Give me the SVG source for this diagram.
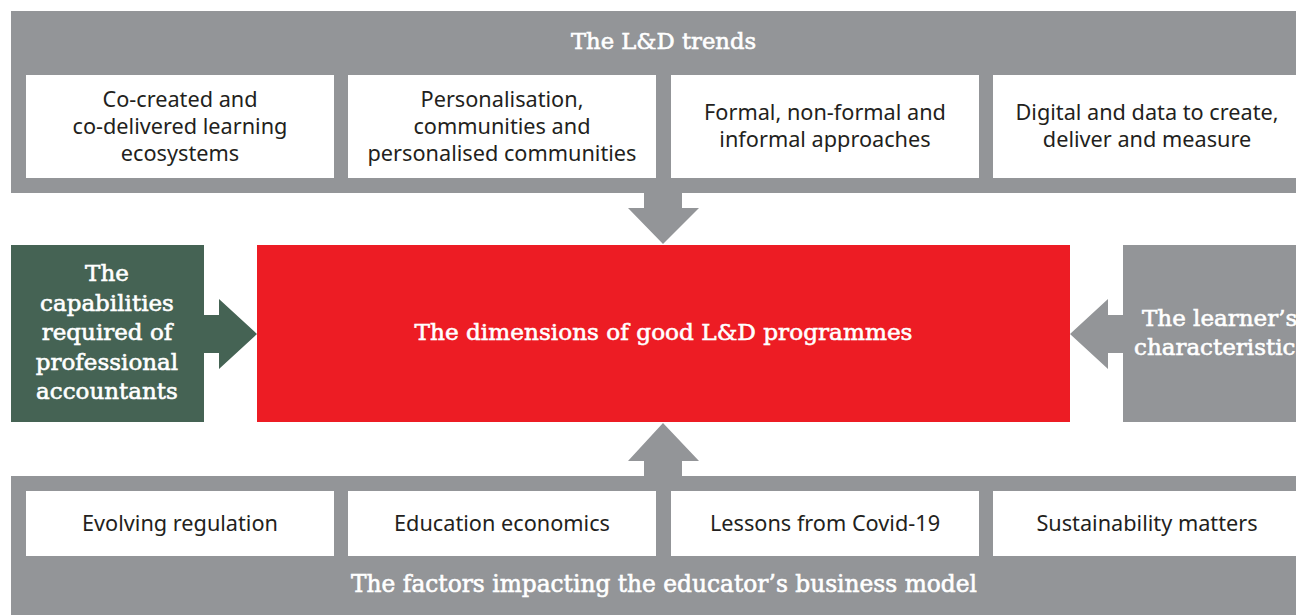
<svg xmlns="http://www.w3.org/2000/svg" width="1296" height="615" viewBox="0 0 1296 615">
<style>
.band{fill:#939598}
.wbox{fill:#ffffff}
.gray{fill:#939598}
.green{fill:#456354}
.red{fill:#ed1c24}
.t{font-family:"Noto Sans","Open Sans",sans-serif;font-size:21.7px;fill:#231f20;text-anchor:middle}
.h{font-family:"DejaVu Serif","Liberation Serif",serif;font-weight:normal;fill:#ffffff;stroke:#ffffff;stroke-width:0.6;text-anchor:middle}
.hs{font-family:"DejaVu Serif","Liberation Serif",serif;font-weight:normal;fill:#ffffff;stroke:#ffffff;stroke-width:0.6;text-anchor:start}
</style>
<rect width="1296" height="615" fill="#ffffff"/>
<g id="trends">
<rect class="band" x="11" y="11" width="1300" height="182"/>
<text class="h" x="663.5" y="49" font-size="22.7">The L&amp;D trends</text>
</g>
<g id="trend1">
<rect class="wbox" x="26" y="75" width="308" height="103"/>
<text class="t" x="180" y="107">Co-created and</text>
<text class="t" x="180" y="134">co-delivered learning</text>
<text class="t" x="180" y="161">ecosystems</text>
</g>
<g id="trend2">
<rect class="wbox" x="348" y="75" width="308" height="103"/>
<text class="t" x="502" y="107">Personalisation,</text>
<text class="t" x="502" y="134">communities and</text>
<text class="t" x="502" y="161">personalised communities</text>
</g>
<g id="trend3">
<rect class="wbox" x="671" y="75" width="308" height="103"/>
<text class="t" x="825" y="120">Formal, non-formal and</text>
<text class="t" x="825" y="147">informal approaches</text>
</g>
<g id="trend4">
<rect class="wbox" x="993" y="75" width="320" height="103"/>
<text class="t" x="1147" y="120">Digital and data to create,</text>
<text class="t" x="1147" y="147">deliver and measure</text>
</g>
<g id="factors">
<rect class="band" x="11" y="476" width="1300" height="150"/>
<text class="h" x="664" y="592" font-size="23.3">The factors impacting the educator’s business model</text>
</g>
<g id="factor1">
<rect class="wbox" x="26" y="491" width="308" height="65"/>
<text class="t" x="180" y="531">Evolving regulation</text>
</g>
<g id="factor2">
<rect class="wbox" x="348" y="491" width="308" height="65"/>
<text class="t" x="502" y="531">Education economics</text>
</g>
<g id="factor3">
<rect class="wbox" x="671" y="491" width="308" height="65"/>
<text class="t" x="825" y="531">Lessons from Covid-19</text>
</g>
<g id="factor4">
<rect class="wbox" x="993" y="491" width="320" height="65"/>
<text class="t" x="1147" y="531">Sustainability matters</text>
</g>
<g id="capabilities">
<rect class="green" x="11" y="245" width="193" height="177"/>
<text class="h" font-size="23" x="107" y="281">The</text>
<text class="h" font-size="23" x="107" y="311">capabilities</text>
<text class="h" font-size="23" x="107" y="340">required of</text>
<text class="h" font-size="23" x="107" y="370">professional</text>
<text class="h" font-size="23" x="107" y="399">accountants</text>
</g>
<g id="dimensions">
<rect class="red" x="257" y="245" width="813" height="177"/>
<text class="h" font-size="23.2" x="663.5" y="340">The dimensions of good L&amp;D programmes</text>
</g>
<g id="learner">
<rect class="gray" x="1123" y="245" width="200" height="177"/>
<text class="hs" font-size="23" x="1142" y="326">The learner’s</text>
<text class="hs" font-size="23" x="1134" y="355">characteristics</text>
</g>
<g id="connectors">
<polygon class="gray" points="656,193 682,193 682,208 699,208 663,244 628,208 644,208 644,193"/>
<polygon class="gray" points="663,423 699,461 682,461 682,476 644,476 644,461 628,461"/>
<polygon class="green" points="204,315 219,315 219,299 257,334 219,369 219,353 204,353"/>
<polygon class="gray" points="1123,315 1108,315 1108,299 1070,334 1108,369 1108,353 1123,353"/>
</g>
</svg>
